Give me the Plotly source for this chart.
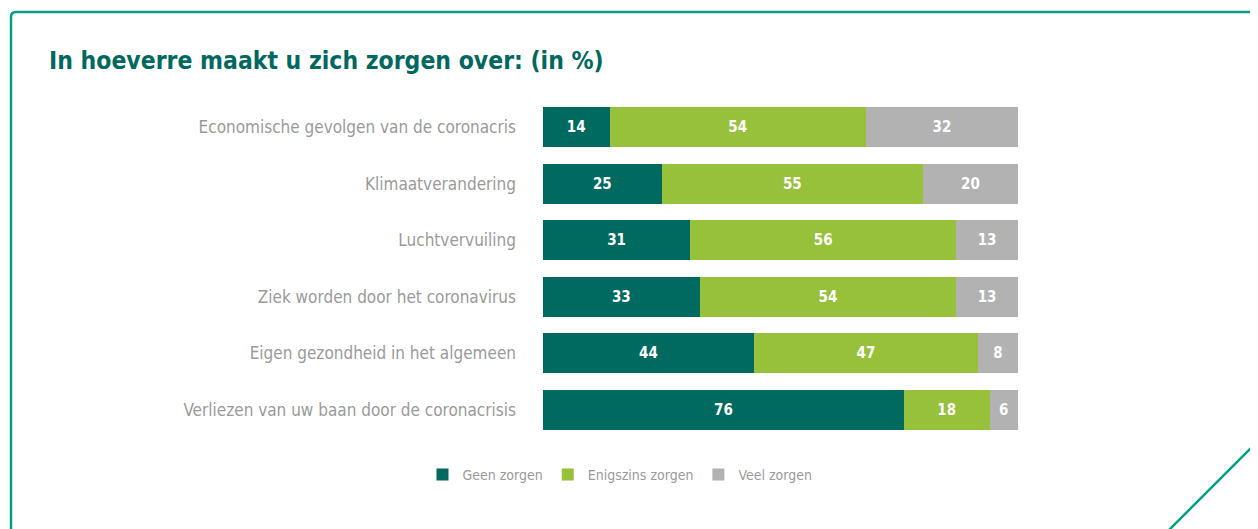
import plotly.graph_objects as go

categories = [
    "Economische gevolgen van de coronacris",
    "Klimaatverandering",
    "Luchtvervuiling",
    "Ziek worden door het coronavirus",
    "Eigen gezondheid in het algemeen",
    "Verliezen van uw baan door de coronacrisis",
]
# shares in %, labels shown rounded (row 5: 44 / 47 / 8)
geen = [14, 25, 31, 33, 44.4, 76]
enigszins = [54, 55, 56, 54, 47.2, 18]
veel = [32, 20, 13, 13, 8.4, 6]
series_names = ["Geen zorgen", "Enigszins zorgen", "Veel zorgen"]
colors = ["#006A61", "#97C03B", "#B2B2B3"]

OFF = 8  # page body margin
W, H = 1258 - OFF, 529 - OFF
L, R_EDGE, T, B_EDGE = 543 - OFF, 1018 - OFF, 99 - OFF, 438 - OFF

def px_x(p):  # screen pixel -> paper
    return (p - OFF - L) / (R_EDGE - L)

def px_y(p):
    return (B_EDGE - (p - OFF)) / (B_EDGE - T)

FONT = "DejaVu Sans Condensed, Roboto, sans-serif"

fig = go.Figure()
for name, vals, col in zip(series_names, [geen, enigszins, veel], colors):
    fig.add_trace(go.Bar(
        y=categories, x=vals, name=name, orientation="h",
        marker=dict(color=col, line=dict(width=0)),
        texttemplate="%{x:.0f}", textposition="inside", insidetextanchor="middle",
        textfont=dict(family=FONT, size=15, color="white", weight="bold"),
        hoverinfo="skip",
    ))

fig.update_layout(
    width=W, height=H, barmode="stack", bargap=0.293,
    margin=dict(l=L, r=W - R_EDGE, t=T, b=H - B_EDGE),
    paper_bgcolor="white", plot_bgcolor="white",
    xaxis=dict(range=[0, 100], visible=False, fixedrange=True),
    yaxis=dict(autorange="reversed", showgrid=False, zeroline=False, showline=False,
               ticks="", ticklabelstandoff=26,
               tickfont=dict(family=FONT, size=17, color="#9A9A9A")),
    showlegend=True,
    legend=dict(orientation="h", x=px_x(620), xanchor="center",
                y=px_y(475), yanchor="middle",
                font=dict(family=FONT, size=14, color="#9A9A9A"),
                itemwidth=30, traceorder="normal"),
    annotations=[dict(
        text="<b>In hoeverre maakt u zich zorgen over: (in %)</b>",
        xref="paper", yref="paper", x=px_x(47), y=px_y(61),
        xanchor="left", yanchor="middle", showarrow=False,
        font=dict(family=FONT, size=24.5, color="#00685F"),
    )],
    shapes=[
        dict(type="path", xref="paper", yref="paper",
             path=f"M {px_x(11)},{px_y(540)} L {px_x(11)},{px_y(17)} Q {px_x(11)},{px_y(12)} {px_x(16)},{px_y(12)} L {px_x(1270)},{px_y(12)}",
             line=dict(color="#00A082", width=2.5)),
        dict(type="line", xref="paper", yref="paper",
             x0=px_x(1270), y0=px_y(429), x1=px_x(1159), y1=px_y(540),
             line=dict(color="#00A082", width=2.5)),
    ],
)

fig.write_html("out.html")
